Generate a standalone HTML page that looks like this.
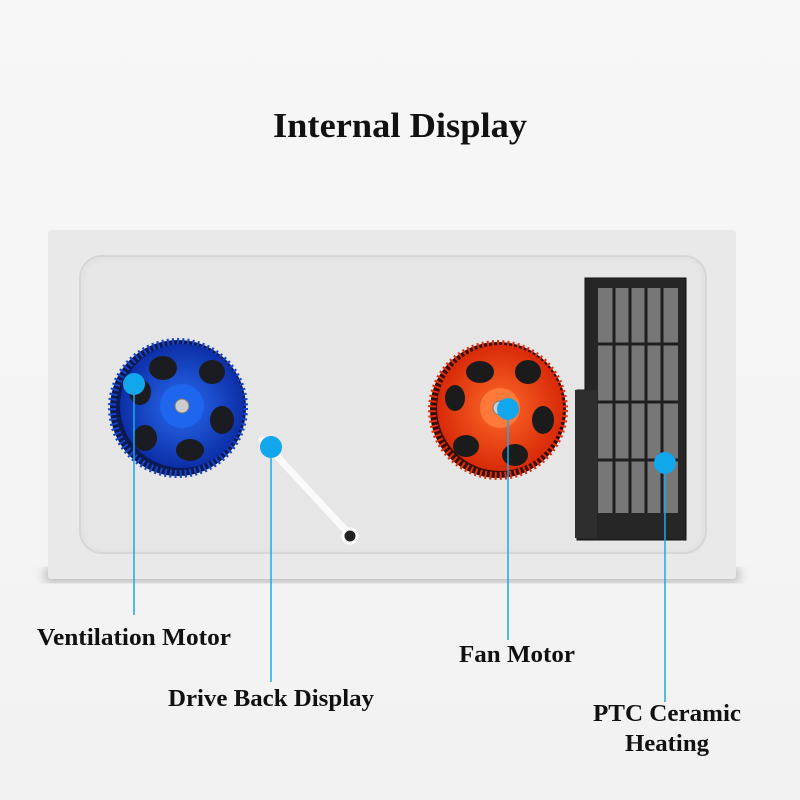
<!DOCTYPE html>
<html><head><style>
body{margin:0;width:800px;height:800px;overflow:hidden;background:#f3f3f3}
svg{display:block}
text{font-family:"Liberation Serif",serif;font-weight:bold;fill:#111}
</style></head><body>
<svg width="800" height="800" viewBox="0 0 800 800">
<defs>
<linearGradient id="bg" x1="0" y1="0" x2="0" y2="1"><stop offset="0" stop-color="#f7f7f7"/><stop offset="1" stop-color="#f2f2f2"/></linearGradient>
<radialGradient id="blue" cx="0.5" cy="0.5" r="0.5"><stop offset="0" stop-color="#2a6cf0"/><stop offset="1" stop-color="#0c2fa8"/></radialGradient>
<radialGradient id="org" cx="0.5" cy="0.5" r="0.5"><stop offset="0" stop-color="#ff6a2a"/><stop offset="1" stop-color="#d82a08"/></radialGradient>
<filter id="sh"><feGaussianBlur stdDeviation="5"/></filter>
</defs>
<rect width="800" height="800" fill="url(#bg)"/>
<text x="273" y="137" font-size="35" textLength="254" lengthAdjust="spacingAndGlyphs">Internal Display</text>
<rect x="45" y="568" width="694" height="14" fill="#b5b5b5" filter="url(#sh)"/>
<rect x="48" y="230" width="688" height="349" rx="3" fill="#e9e9e9"/>
<rect x="80" y="256" width="626" height="297" rx="22" fill="#e3e3e3" stroke="#d6d6d6" stroke-width="2"/>
<rect x="84" y="260" width="618" height="289" rx="20" fill="#e6e6e6"/>
<circle cx="178" cy="408" r="68" fill="#0b1a55"/>
<circle cx="178" cy="408" r="66" fill="none" stroke="#1546c8" stroke-width="8" stroke-dasharray="2 3"/>
<circle cx="182" cy="406" r="62" fill="url(#blue)"/>
<g fill="#1b1b22">
<ellipse cx="163" cy="368" rx="14" ry="12"/><ellipse cx="212" cy="372" rx="13" ry="12"/><ellipse cx="222" cy="420" rx="12" ry="14"/>
<ellipse cx="190" cy="450" rx="14" ry="11"/><ellipse cx="145" cy="438" rx="12" ry="13"/><ellipse cx="140" cy="392" rx="11" ry="13"/></g>
<circle cx="182" cy="406" r="22" fill="#1e66ee"/>
<circle cx="182" cy="406" r="7" fill="#ccc" stroke="#777"/>
<circle cx="498" cy="410" r="68" fill="#3a0c04"/>
<circle cx="498" cy="410" r="66" fill="none" stroke="#e03010" stroke-width="8" stroke-dasharray="2 3"/>
<circle cx="500" cy="408" r="63" fill="url(#org)"/>
<g fill="#1b1b1b">
<ellipse cx="480" cy="372" rx="14" ry="11"/><ellipse cx="528" cy="372" rx="13" ry="12"/><ellipse cx="543" cy="420" rx="11" ry="14"/>
<ellipse cx="515" cy="455" rx="13" ry="11"/><ellipse cx="466" cy="446" rx="13" ry="11"/><ellipse cx="455" cy="398" rx="10" ry="13"/></g>
<circle cx="500" cy="408" r="20" fill="#ff7a3a"/>
<circle cx="500" cy="408" r="7" fill="#ccc" stroke="#777"/>
<path d="M262 440 L350 535" stroke="#fafafa" stroke-width="7" stroke-linecap="round"/>
<circle cx="350" cy="536" r="7" fill="#222" stroke="#fff" stroke-width="3"/>
<path d="M585 278 H686 V540 H577 V390 H585 Z" fill="#262626" stroke="#111"/>
<rect x="598" y="288" width="80" height="225" fill="#777"/>
<g stroke="#1e1e1e" stroke-width="3">
<line x1="598" y1="344" x2="678" y2="344"/><line x1="598" y1="402" x2="678" y2="402"/><line x1="598" y1="460" x2="678" y2="460"/>
<line x1="614" y1="288" x2="614" y2="513"/><line x1="630" y1="288" x2="630" y2="513"/><line x1="646" y1="288" x2="646" y2="513"/><line x1="662" y1="288" x2="662" y2="513"/></g>
<rect x="575" y="390" width="22" height="148" fill="#2e2e2e"/>
<g stroke="#1ea8ea" stroke-width="1.5">
<line x1="134" y1="384" x2="134" y2="615"/><line x1="271" y1="447" x2="271" y2="682"/>
<line x1="508" y1="409" x2="508" y2="640"/><line x1="665" y1="463" x2="665" y2="702"/></g>
<g fill="#12a6ec">
<circle cx="134" cy="384" r="11"/><circle cx="271" cy="447" r="11"/><circle cx="508" cy="409" r="11"/><circle cx="665" cy="463" r="11"/></g>
<text x="37" y="645" font-size="24" textLength="194" lengthAdjust="spacingAndGlyphs">Ventilation Motor</text>
<text x="168" y="706" font-size="24" textLength="206" lengthAdjust="spacingAndGlyphs">Drive Back Display</text>
<text x="459" y="662" font-size="24" textLength="116" lengthAdjust="spacingAndGlyphs">Fan Motor</text>
<text x="593" y="721" font-size="24" textLength="148" lengthAdjust="spacingAndGlyphs">PTC Ceramic</text>
<text x="625" y="751" font-size="24" textLength="84" lengthAdjust="spacingAndGlyphs">Heating</text>
</svg>
</body></html>
